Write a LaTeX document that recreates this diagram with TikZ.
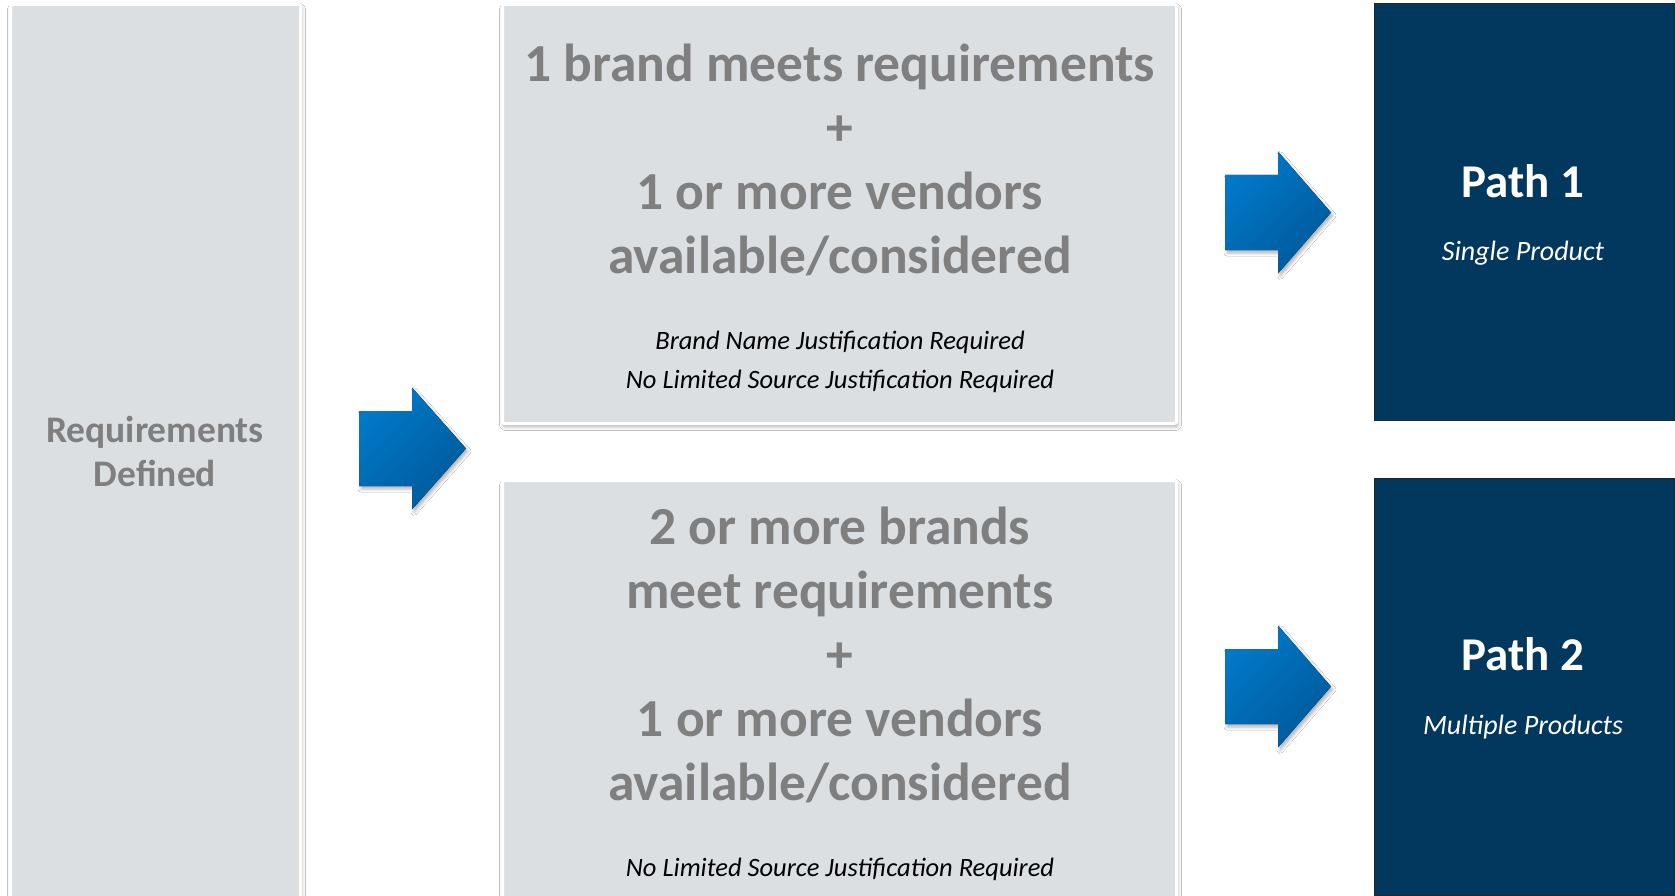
\documentclass[tikz,border=0pt]{standalone}
\usepackage{fontspec}
\setmainfont{Carlito}
\usetikzlibrary{shadows.blur}

\definecolor{boxgray}{HTML}{DCDFE2}
\definecolor{textgray}{HTML}{7F7F7F}
\definecolor{pathblue}{HTML}{02375E}
\definecolor{arrowlight}{HTML}{0079C9}
\definecolor{arrowdark}{HTML}{00599A}

\tikzset{
  graybox/.style={rectangle, fill=boxgray, draw=white, line width=3pt, rounded corners=2pt, inner sep=0pt,
    blur shadow={shadow xshift=1pt, shadow yshift=-3pt, shadow blur radius=4pt, shadow opacity=35}},
  pathbox/.style={rectangle, fill=pathblue, draw=black!85, line width=1pt, inner sep=0pt},
  bigtext/.style={align=center, text=textgray, font=\fontsize{53.5}{64}\selectfont\bfseries},
  reqtext/.style={align=center, text=textgray, font=\fontsize{37.5}{44}\selectfont\bfseries},
  notetext/.style={align=center, font=\fontsize{26.5}{39}\selectfont\itshape},
  pathtitle/.style={text=white, font=\fontsize{47}{54}\selectfont\bfseries},
  pathnote/.style={text=white, font=\fontsize{28}{32}\selectfont\itshape},
  bluearrow/.style={left color=arrowlight, right color=arrowdark, shading angle=45,
    blur shadow={shadow xshift=2pt, shadow yshift=-3pt, shadow blur radius=3pt, shadow opacity=30}},
}

\begin{document}
\begin{tikzpicture}[x=1pt, y=-1pt]
  \useasboundingbox (0,0) rectangle (1675,896);
  \clip (0,0) rectangle (1675,896);
  \fill[white] (0,0) rectangle (1675,896);

  % left column
  \node (reqs) at (155.5,462) [graybox, minimum width=290pt, minimum height=915pt] {};
  \node (reqlabel) at (155,451) [reqtext] {Requirements\\Defined};

  % the two cases
  \node (single) at (839.5,214) [graybox, minimum width=674pt, minimum height=419pt] {};
  \node (singletext) at (840,160) [bigtext] {1 brand meets requirements\\+\\1 or more vendors\\available/considered};
  \node (singlenote) at (840,361.5) [notetext] {Brand Name Justification Required\\No Limited Source Justification Required};

  \node (multi) at (839.5,700.25) [graybox, minimum width=674pt, minimum height=439.5pt] {};
  \node (multitext) at (840,654.5) [bigtext] {2 or more brands\\meet requirements\\+\\1 or more vendors\\available/considered};
  \node (multinote) at (840,869) [notetext] {No Limited Source Justification Required};

  % outcomes
  \node (path1) at (1524,211.75) [pathbox, minimum width=300pt, minimum height=416.5pt] {};
  \node (path1title) at (1523,181) [pathtitle] {Path 1};
  \node (path1note) at (1523,253) [pathnote] {Single Product};

  \node (path2) at (1524,686.5) [pathbox, minimum width=300pt, minimum height=417pt] {};
  \node (path2title) at (1523,654) [pathtitle] {Path 2};
  \node (path2note) at (1523,727) [pathnote] {Multiple Products};

  % block arrows
  \coordinate (a1) at (359,448.5);
  \coordinate (a2) at (1225,212.5);
  \coordinate (a3) at (1225,686.5);
  \fill[bluearrow] (a1) ++(0,-37.5) -- ++(53,0) -- ++(0,-23.5) -- ++(54,61) -- ++(-54,61) -- ++(0,-23.5) -- ++(-53,0) -- cycle;
  \fill[bluearrow] (a2) ++(0,-37.5) -- ++(53,0) -- ++(0,-23.5) -- ++(53,61) -- ++(-53,61) -- ++(0,-23.5) -- ++(-53,0) -- cycle;
  \fill[bluearrow] (a3) ++(0,-37.5) -- ++(53,0) -- ++(0,-23.5) -- ++(53,61) -- ++(-53,61) -- ++(0,-23.5) -- ++(-53,0) -- cycle;
\end{tikzpicture}
\end{document}
